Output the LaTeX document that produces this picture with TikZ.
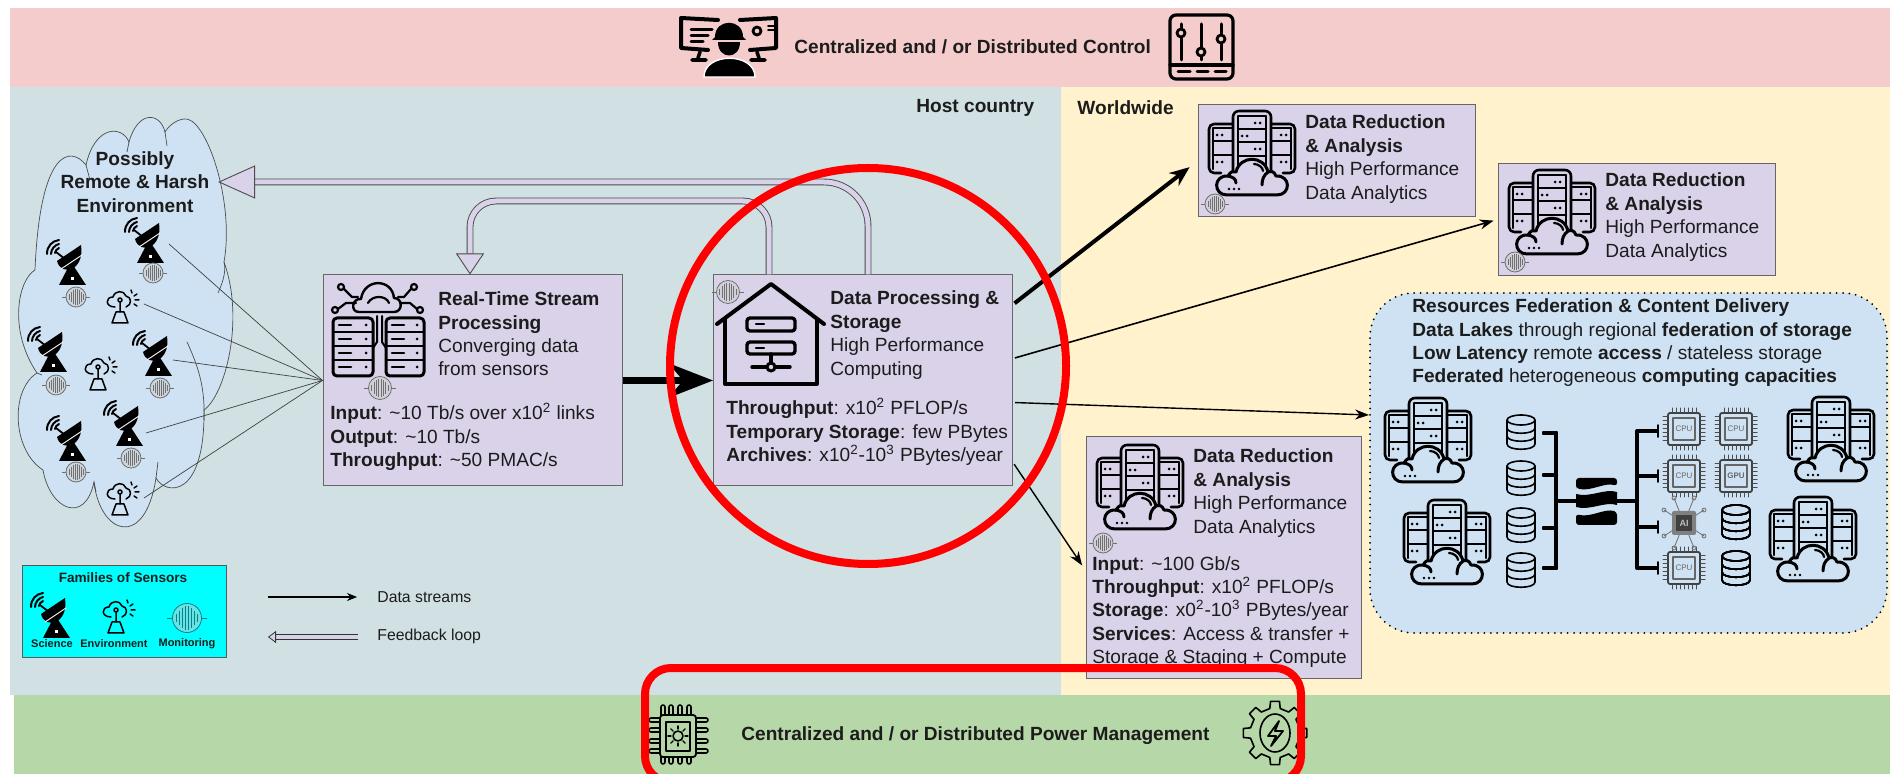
\documentclass[tikz,border=0pt]{standalone}
\usepackage{fontspec}
\setmainfont{Liberation Sans}
\usetikzlibrary{arrows.meta, calc}
\definecolor{bandred}{HTML}{F4CCCC}
\definecolor{bandgreen}{HTML}{B6D7A8}
\definecolor{hostbg}{HTML}{D0E0E3}
\definecolor{worldbg}{HTML}{FFF2CC}
\definecolor{boxbg}{HTML}{D9D2E9}
\definecolor{skybg}{HTML}{CFE2F3}
\definecolor{legendbg}{HTML}{00FFFF}
\definecolor{txtdark}{HTML}{1C1C1C}
\definecolor{wavegrey}{HTML}{707070}
\definecolor{waveteal}{HTML}{0F7F86}
\newcommand{\boxfont}{\fontsize{9.55}{11.7}\selectfont}
\tikzset{
    band/.style={fill=#1, draw=none},
    infobox/.style={draw=black!60, fill=boxbg, line width=0.5pt, inner sep=0pt},
    mainbox/.style={infobox, minimum width=149.5pt, minimum height=105.5pt},
    reducebox/.style={infobox, minimum width=138.5pt, minimum height=56pt},
    boxtext/.style={font=\boxfont, text=txtdark, align=left, anchor=west, inner sep=0pt},
    smalltext/.style={font=\fontsize{5.5}{6}\selectfont\bfseries, text=txtdark, inner sep=0pt},
    sensorlink/.style={draw=black!75, line width=0.35pt},
    datalink/.style={draw=black, line width=#1, -{Stealth[length=7pt, width=5pt]}},
    fblink/.style={draw=black!70, double=boxbg, double distance=2.5pt, line width=0.45pt},
    redmark/.style={draw=red, line width=4pt},
    icon/.style={line width=#1, draw=black, line cap=round, line join=round},
}

% antenna dish, 39 x 45
\newcommand{\tikzicondish}[2]{%
    \begin{scope}[shift={(#1,#2)}]
        \fill (12,45) -- (24,22) -- (39,45) -- cycle;
        \fill (10,21) .. controls (14,37) and (38,31) .. (34,5) -- cycle;
        \draw[white, line width=0.45pt] (14,29) -- (35,15);
        \fill[white] (24,37) rectangle (27,40);
        \draw[icon=0.9pt] (9,12) -- (18,19);
        \draw[icon=1pt] (0,14) .. controls (0,6) and (5,1) .. (12,0);
        \draw[icon=1pt] (4,14) .. controls (4,9) and (8,5) .. (12,4);
        \draw[icon=1pt] (8,13) .. controls (8,11) and (10,9) .. (12,8);
    \end{scope}
}
% weather station, 33 x 33
\newcommand{\tikziconweather}[2]{%
    \begin{scope}[shift={(#1,#2)}]
        \draw[icon=0.75pt] (9,17) .. controls (-1,17) and (-1,7) .. (7,7) .. controls (9,0) and (18,0) .. (20,6) .. controls (26,7) and (26,15) .. (20,17);
        \draw[icon=0.75pt] (25,0) -- (26,3) (31,4) -- (28,6) (33,10) -- (29,10) (31,16) -- (28,14);
        \draw[icon=0.75pt] (14,10) circle[radius=2] (14,12) -- (14,22);
        \draw[icon=0.75pt] (10,22) -- (18,22) -- (22,33) -- (6,33) -- cycle;
    \end{scope}
}
% monitoring wave, centred
\newcommand{\tikziconwave}[4]{%
    \begin{scope}[shift={(#1,#2)}, scale=#4]
        \draw[draw=#3, fill=#3!35, fill opacity=0.6, line width=0.4pt] (0,0) circle[radius=10];
        \draw[#3, line width=0.4pt] (-14,0) -- (-10,0) (10,0) -- (14,0);
        \foreach \wx/\wh in {-7/3, -5/5, -3/7, -1/8, 1/8, 3/7, 5/5, 7/3}
            \draw[#3, line width=0.5pt] (\wx,-\wh) -- (\wx,\wh);
    \end{scope}
}
% racks behind a cloud, 86 x 85
\newcommand{\tikziconrack}[3]{%
    \begin{scope}[shift={(#1,#2)}]
        \draw[icon=1.3pt, rounded corners=2.5pt] (24,13) -- (0,13) -- (0,62) -- (12,62);
        \draw[icon=1.3pt, rounded corners=2.5pt] (62,13) -- (86,13) -- (86,62) -- (74,62);
        \draw[icon=1.1pt] (4,30) -- (24,30) (4,44) -- (24,44) (62,30) -- (82,30) (62,44) -- (82,44);
        \draw[icon=1.1pt] (4,17) -- (4,58) (82,17) -- (82,58) (4,17) -- (24,17) (62,17) -- (82,17);
        \draw[icon=1.3pt, rounded corners=3pt, fill=#3] (24,60) -- (24,0) -- (62,0) -- (62,60);
        \draw[icon=1.1pt] (29,5) -- (57,5) (29,18) -- (57,18) (29,31) -- (57,31) (29,45) -- (57,45) (29,5) -- (29,55) (57,5) -- (57,55);
        \foreach \rx/\ry in {46/12, 51/12, 46/38, 51/38, 33/25, 38/25, 33/52, 38/52, 8/24, 13/24, 8/51, 13/51, 72/24, 77/24, 72/51, 77/51}
            \fill (\rx,\ry) circle[radius=1.5];
        \draw[icon=1.5pt, fill=#3] (18,84) .. controls (4,84) and (4,64) .. (19,65) .. controls (22,60) and (24,60) .. (27,61) .. controls (31,44) and (55,44) .. (59,61) .. controls (62,60) and (65,60) .. (67,65) .. controls (82,64) and (82,84) .. (68,84) -- cycle;
        \draw[icon=1.5pt] (19,65) .. controls (24,66) and (27,68) .. (27,72);
        \draw[icon=1.5pt] (59,61) .. controls (55,64) and (53,68) .. (53,74);
        \draw[icon=1.1pt] (45,53) .. controls (50,53) and (54,57) .. (54,60);
        \foreach \rx in {20,25,30}
            \fill (\rx,78) circle[radius=1.4];
    \end{scope}
}
% database cylinder, centred
\newcommand{\tikzicondisk}[2]{%
    \begin{scope}[shift={(#1,#2)}]
        \draw[icon=0.8pt] (0,-12) ellipse[x radius=14, y radius=5];
        \draw[icon=0.8pt] (-14,-12) -- (-14,12) .. controls (-14,19) and (14,19) .. (14,12) -- (14,-12);
        \draw[icon=0.8pt] (-14,-4) .. controls (-14,3) and (14,3) .. (14,-4);
        \draw[icon=0.8pt] (-14,4) .. controls (-14,11) and (14,11) .. (14,4);
    \end{scope}
}
% processor chip, centred
\newcommand{\tikziconchip}[3]{%
    \begin{scope}[shift={(#1,#2)}]
        \draw[icon=0.9pt, draw=black!75, rounded corners=1pt] (-16,-16) rectangle (16,16);
        \draw[icon=0.6pt, draw=black!60] (-11,-11) rectangle (11,11);
        \foreach \pp in {-12,-8,-4,0,4,8,12} {
            \draw[icon=0.5pt, draw=black!70] (\pp,-16) -- (\pp,-21) (\pp,16) -- (\pp,21) (-16,\pp) -- (-21,\pp) (16,\pp) -- (21,\pp);
        }
        \node[font=\fontsize{4}{5}\selectfont, text=black!60, inner sep=0pt] (chip#1x#2) at (0,0) {#3};
    \end{scope}
}

\begin{document}
\begin{tikzpicture}[x=0.5pt, y=-0.5pt]
    \useasboundingbox (0,0) rectangle (1890,774);

    \fill[band=bandred] (10,8) rectangle (1890,87);
    \fill[band=hostbg] (10,87) rectangle (1061,695);
    \fill[band=worldbg] (1061,87) rectangle (1890,695);
    \fill[band=bandgreen] (14,695) rectangle (1890,774);

    \node[boxtext, font=\boxfont\bfseries] (controltitle) at (794,47) {Centralized and / or Distributed Control};
    \node[boxtext, font=\boxfont\bfseries] (powertitle) at (741,736) {Centralized and / or Distributed Power Management};
    \node[boxtext, font=\boxfont\bfseries] (hosttitle) at (916,108) {Host country};
    \node[boxtext, font=\boxfont\bfseries] (worldtitle) at (1077,108) {Worldwide};

    % operator at two screens
    \draw[icon=2pt] (681,18) -- (718,20) (681,18) -- (681,48) -- (708,50) (776,18) -- (740,20) (776,18) -- (776,48) -- (750,50);
    \draw[icon=1.5pt] (691,30) -- (712,30) (691,36) -- (708,36) (691,42) -- (703,42);
    \draw[icon=1.8pt] (700,52) -- (698,58) (757,52) -- (759,58) (692,60) -- (706,60) (751,60) -- (765,60);
    \draw[icon=1.4pt] (757,31) circle[radius=4];
    \draw[icon=0.8pt] (768,26) -- (774,26) (768,30) -- (774,30);
    \fill (715,37) .. controls (715,18) and (743,18) .. (743,37) -- (746,40) -- (712,40) -- cycle;
    \fill (718,42) -- (740,42) .. controls (740,60) and (718,60) .. (718,42) -- cycle;
    \filldraw[draw=white, line width=0.7pt] (704,77) .. controls (704,52) and (755,52) .. (755,77) -- cycle;
    % control panel
    \draw[icon=1.6pt, rounded corners=3pt] (1170,15) rectangle (1233,79);
    \draw[icon=1.6pt] (1170,65) -- (1233,65);
    \draw[icon=1.5pt] (1181,24) -- (1181,60) (1201,24) -- (1201,60) (1221,24) -- (1221,60);
    \draw[icon=1.4pt, fill=bandred] (1181,33) circle[radius=4] (1201,52) circle[radius=4] (1221,39) circle[radius=4];
    \draw[icon=1.5pt] (1178,72) -- (1190,72) (1197,72) -- (1208,72) (1215,72) -- (1226,72);
    % power chip
    \draw[icon=0.9pt, rounded corners=1.5pt] (660,715) rectangle (696,757);
    \draw[icon=0.7pt] (666,722) rectangle (690,751);
    \foreach \px in {663,671,680,689}
        \draw[icon=0.8pt, rounded corners=1pt] (\px-2,715) -- (\px-2,705) -- (\px+2,705) -- (\px+2,715) (\px-2,757) -- (\px-2,764) -- (\px+2,764) -- (\px+2,757);
    \foreach \py in {720,730,741,751}
        \draw[icon=0.8pt, rounded corners=1pt] (660,\py-2) -- (649,\py-2) -- (649,\py+2) -- (660,\py+2) (696,\py-2) -- (708,\py-2) -- (708,\py+2) -- (696,\py+2);
    \draw[icon=0.8pt] (678,736) circle[radius=5];
    \foreach \pa in {0,45,...,315}
        \draw[icon=0.7pt] (678,736) ++(\pa:7) -- ++(\pa:3);
    % gear with bolt
    \begin{scope}[shift={(1275,733)}]
        \draw[icon=0.8pt] (-12:25) \foreach \pa in {0,45,...,315} { -- (\pa-12:25) -- (\pa-8:32) -- (\pa+8:32) -- (\pa+12:25) } -- cycle;
        \draw[icon=0.8pt] (0,0) ellipse[x radius=15, y radius=19];
        \draw[icon=0.9pt] (4,-12) -- (-7,3) -- (1,3) -- (-4,13) -- (8,-2) -- (0,-2) -- cycle;
    \end{scope}

    % sensor field
    \draw[draw=black!70, fill=skybg, line width=0.35pt] (35,270)
        .. controls (18,280) and (8,330) .. (37,373)
        .. controls (10,390) and (12,450) .. (43,470)
        .. controls (50,510) and (85,525) .. (94,482)
        .. controls (100,535) and (145,550) .. (156,478)
        .. controls (165,495) and (205,500) .. (204,410)
        .. controls (225,395) and (245,320) .. (224,262)
        .. controls (235,200) and (205,115) .. (184,119)
        .. controls (175,120) and (168,127) .. (165,132)
        .. controls (160,112) and (138,110) .. (129,142)
        .. controls (122,125) and (95,125) .. (86,165)
        .. controls (70,145) and (40,150) .. (35,270) -- cycle;
    \draw[draw=black!70, line width=0.35pt] (218,293) .. controls (224,280) and (226,270) .. (224,262)
        (187,342) .. controls (200,370) and (205,390) .. (204,420)
        (86,165) -- (90,180) (129,142) -- (127,152) (165,132) -- (167,146)
        (37,373) -- (42,375) (94,482) -- (96,492) (156,478) -- (158,462);
    \node[font=\boxfont\bfseries, text=txtdark, align=center, inner sep=0pt] (fieldtitle) at (135,182) {Possibly\\Remote \& Harsh\\Environment};
    \tikzicondish{47}{240}
    \tikzicondish{125}{218}
    \tikzicondish{28}{327}
    \tikzicondish{133}{331}
    \tikzicondish{104}{401}
    \tikzicondish{47}{416}
    \tikziconwave{76}{297}{wavegrey}{1}
    \tikziconwave{153}{273}{wavegrey}{1}
    \tikziconwave{56}{385}{wavegrey}{1}
    \tikziconwave{160}{388}{wavegrey}{1}
    \tikziconwave{131}{458}{wavegrey}{1}
    \tikziconwave{76}{472}{wavegrey}{1}
    \tikziconweather{106}{290}
    \tikziconweather{84}{357}
    \tikziconweather{106}{482}

    \node[mainbox] (stream) at (472.5,380.5) {};
    \node[mainbox] (proc) at (863,380.5) {};
    \node[reducebox] (reduceA) at (1336.5,161) {};
    \node[reducebox] (reduceB) at (1636.5,219.5) {};
    \node[infobox, minimum width=137.5pt, minimum height=120.5pt] (reduceC) at (1223.5,557.5) {};
    \node[draw=black, fill=skybg, line width=1pt, dash pattern=on 0pt off 3.2pt, line cap=round, rounded corners=22pt, minimum width=258.5pt, minimum height=170pt, inner sep=0pt] (fed) at (1628.5,463) {};

    % links out of the field
    \coordinate (fieldA) at (169,244);
    \coordinate (fieldB) at (144,304);
    \coordinate (fieldC) at (173,360);
    \coordinate (fieldD) at (146,433);
    \coordinate (fieldE) at (144,498);
    \foreach \src in {fieldA, fieldB, fieldC, fieldD, fieldE}
        \draw[sensorlink] (\src) -- (stream.west);

    % data streams
    \draw[draw=black, line width=3.2pt, -{Stealth[length=22pt, width=17pt, inset=7pt]}] (stream.east) -- (proc.west);
    \draw[draw=black, line width=2pt, shorten <=1pt, shorten >=5pt, -{Stealth[length=10pt, width=8pt]}] ([yshift=38pt]proc.east) -- (reduceA.west);
    \draw[datalink=0.8pt, shorten <=1pt, shorten >=2pt] ([yshift=11pt]proc.east) -- (reduceB.west);
    \draw[datalink=0.7pt, shorten <=1pt] ([yshift=-11pt]proc.east) -- ([yshift=24pt]fed.west);
    \draw[datalink=0.7pt, shorten <=1pt, shorten >=3pt] ([yshift=-41pt]proc.east) -- ([yshift=-6.5pt]reduceC.west);

    % feedback loops
    \coordinate (fieldtip) at (218,182);
    \coordinate (fbturn) at (620,201);
    \draw[fblink, rounded corners=22pt, -{Triangle[length=18.5pt, width=16.5pt, fill=boxbg, line width=0.45pt]}] ([xshift=2.5pt]proc.north) |- (fieldtip);
    \draw[fblink, rounded corners=13pt, -{Triangle[length=10.5pt, width=14pt, fill=boxbg, line width=0.45pt]}] ([xshift=-47pt]proc.north) |- (fbturn) -| ([xshift=-1.25pt]stream.north);

    % stream box
    \draw[icon=1.2pt] (359,312) .. controls (350,312) and (352,298) .. (361,299) .. controls (364,278) and (392,278) .. (394,298) .. controls (403,298) and (403,312) .. (394,312) -- cycle;
    \draw[icon=1.1pt] (368,303) .. controls (372,295) and (386,295) .. (389,303);
    \draw[icon=1.1pt] (341,287) circle[radius=3] (335,310) circle[radius=3] (414,287) circle[radius=3] (420,310) circle[radius=3];
    \draw[icon=1.1pt] (344,289) -- (352,297) -- (358,297) (338,309) -- (346,303) -- (356,303) (411,289) -- (404,297) -- (398,297) (417,309) -- (410,303) -- (400,303);
    \foreach \ux/\uw in {333/40, 386/38} {
        \draw[icon=1.5pt, rounded corners=2pt] (\ux,318) rectangle (\ux+\uw,376);
        \foreach \uy in {332,346,360}
            \draw[icon=1.2pt] (\ux,\uy) -- (\ux+\uw,\uy);
        \foreach \uy in {325,339,353,367} {
            \draw[icon=1.3pt] (\ux+6,\uy) -- (\ux+18,\uy);
            \fill (\ux+\uw-7,\uy) circle[radius=1.5];
        }
    }
    \draw[icon=1pt] (377,316) -- (377,342) -- (373,348) (382,316) -- (382,342) -- (386,348);
    \tikziconwave{380}{388}{wavegrey}{1.15}
    \node[boxtext] (streamtitle) at (438,334) {\textbf{Real-Time Stream}\\\textbf{Processing}\\Converging data\\from sensors};
    \node[boxtext] (streamspec) at (330,437) {\textbf{Input}: \textasciitilde10 Tb/s over x10\textsuperscript{2} links\\\textbf{Output}: \textasciitilde10 Tb/s\\\textbf{Throughput}: \textasciitilde50 PMAC/s};

    % processing box
    \draw[icon=2pt] (717,324) -- (771,284) -- (824,324);
    \draw[icon=2pt] (725,319) -- (725,384) -- (817,384) -- (817,319);
    \draw[icon=1.7pt, rounded corners=1.5pt] (747,318) rectangle (795,331) (747,342) rectangle (795,354);
    \draw[icon=1.2pt] (756,324) -- (764,324) (756,348) -- (764,348);
    \draw[icon=1.7pt] (771,354) -- (771,363) (752,367) -- (790,367);
    \draw[icon=1.5pt, fill=boxbg] (771,367) circle[radius=4];
    \tikziconwave{728}{292}{wavegrey}{1.15}
    \node[boxtext] (proctitle) at (830,335) {\textbf{Data Processing \&}\\\textbf{Storage}\\High Performance\\Computing};
    \node[boxtext] (procspec) at (726,432) {\textbf{Throughput}: x10\textsuperscript{2} PFLOP/s\\\textbf{Temporary Storage}: few PBytes\\\textbf{Archives}: x10\textsuperscript{2}-10\textsuperscript{3} PBytes/year};

    % reduction boxes
    \tikziconrack{1209}{111}{boxbg}
    \tikziconwave{1215}{204}{wavegrey}{1}
    \node[boxtext] (reduceAtitle) at (1305,159) {\textbf{Data Reduction}\\\textbf{\& Analysis}\\High Performance\\Data Analytics};
    \tikziconrack{1509}{170}{boxbg}
    \tikziconwave{1515}{262}{wavegrey}{1}
    \node[boxtext] (reduceBtitle) at (1605,217) {\textbf{Data Reduction}\\\textbf{\& Analysis}\\High Performance\\Data Analytics};
    \tikziconrack{1097}{445}{boxbg}
    \tikziconwave{1103}{543}{wavegrey}{1}
    \node[boxtext] (reduceCtitle) at (1193,493) {\textbf{Data Reduction}\\\textbf{\& Analysis}\\High Performance\\Data Analytics};
    \node[boxtext] (reduceCspec) at (1092,612) {\textbf{Input}: \textasciitilde100 Gb/s\\\textbf{Throughput}: x10\textsuperscript{2} PFLOP/s\\\textbf{Storage}: x0\textsuperscript{2}-10\textsuperscript{3} PBytes/year\\\textbf{Services}: Access \& transfer +\\Storage \& Staging + Compute};

    % federation panel
    \node[boxtext] (fedtitle) at (1412,343) {\textbf{Resources Federation \& Content Delivery}\\\textbf{Data Lakes} through regional \textbf{federation of storage}\\\textbf{Low Latency} remote \textbf{access} / stateless storage\\\textbf{Federated} heterogeneous \textbf{computing capacities}};
    \tikziconrack{1385}{398}{skybg}
    \tikziconrack{1404}{500}{skybg}
    \tikziconrack{1788}{397}{skybg}
    \tikziconrack{1770}{497}{skybg}
    \foreach \dy in {432,478,525,570}
        \tikzicondisk{1521}{\dy}
    \tikzicondisk{1736}{522}
    \tikzicondisk{1736}{568}
    \draw[icon=2pt] (1544,433) -| (1556,568) -- (1544,568) (1544,475) -- (1556,475) (1544,528) -- (1556,528) (1556,501) -- (1578,501);
    \draw[icon=2pt] (1615,501) -- (1637,501) (1657,431) -| (1637,568) -- (1657,568) (1637,476) -- (1657,476) (1637,527) -- (1657,527);
    \foreach \ty in {431,476,527,568}
        \draw[icon=0.8pt] (1658,\ty-6) -- (1658,\ty+6);
    \fill[rounded corners=1.5pt] (1576,486) -- (1576,478) -- (1617,478) -- (1617,486) .. controls (1605,482) and (1590,492) .. (1576,488) -- cycle;
    \fill (1576,494) .. controls (1590,498) and (1605,488) .. (1617,492) -- (1617,505) .. controls (1605,501) and (1590,511) .. (1576,507) -- cycle;
    \fill[rounded corners=1.5pt] (1576,514) .. controls (1590,518) and (1605,508) .. (1617,512) -- (1617,525) -- (1576,525) -- cycle;
    \tikziconchip{1684}{429}{CPU}
    \tikziconchip{1736}{429}{CPU}
    \tikziconchip{1684}{476}{CPU}
    \tikziconchip{1736}{476}{\textbf{GPU}}
    \tikziconchip{1684}{568}{CPU}
    % ai chip
    \foreach \ax/\ay in {1664/510, 1664/536, 1704/510, 1704/536, 1674/498, 1694/498, 1674/548, 1694/548}
        \draw[icon=0.4pt, draw=black!55] (1684,523) -- (\ax,\ay) (\ax,\ay) circle[radius=2];
    \fill[black!50, rounded corners=1pt] (1672,511) rectangle (1696,535);
    \fill[black!75] (1676,515) rectangle (1692,531);
    \node[font=\fontsize{4.5}{5}\selectfont\bfseries, text=black!25, inner sep=0pt] (aichip) at (1684,523) {AI};

    % legend
    \node[draw=black!65, fill=legendbg, line width=0.5pt, minimum width=102pt, minimum height=45.5pt, inner sep=0pt] (legendbox) at (124,611.5) {};
    \node[font=\fontsize{6.8}{8}\selectfont\bfseries, text=txtdark, inner sep=0pt] (legendtitle) at (123,578) {Families of Sensors};
    \tikzicondish{31}{593}
    \tikziconweather{102}{600}
    \tikziconwave{187}{618}{waveteal}{1.45}
    \node[smalltext] (legendscience) at (52,644) {Science};
    \node[smalltext] (legendenv) at (114,644) {Environment};
    \node[smalltext] (legendmon) at (187,644) {Monitoring};
    \coordinate (legendAa) at (268,597);
    \coordinate (legendAb) at (357,597);
    \coordinate (legendBa) at (358,637);
    \coordinate (legendBb) at (268,637);
    \draw[draw=black, line width=0.6pt, -{Stealth[length=5pt, width=4pt]}] (legendAa) -- (legendAb);
    \draw[draw=black!80, double=boxbg, double distance=1.7pt, line width=0.5pt, -{Triangle[length=4pt, width=6pt, fill=boxbg, line width=0.4pt]}] (legendBa) -- (legendBb);
    \node[boxtext, font=\fontsize{7.9}{9}\selectfont] (legendstreams) at (377,597) {Data streams};
    \node[boxtext, font=\fontsize{7.9}{9}\selectfont] (legendloop) at (377,636) {Feedback loop};

    % marks over the picture
    \draw[redmark] (868,366) circle[radius=198];
    \draw[redmark, rounded corners=13pt] (645,668) rectangle (1301,782);
\end{tikzpicture}
\end{document}
